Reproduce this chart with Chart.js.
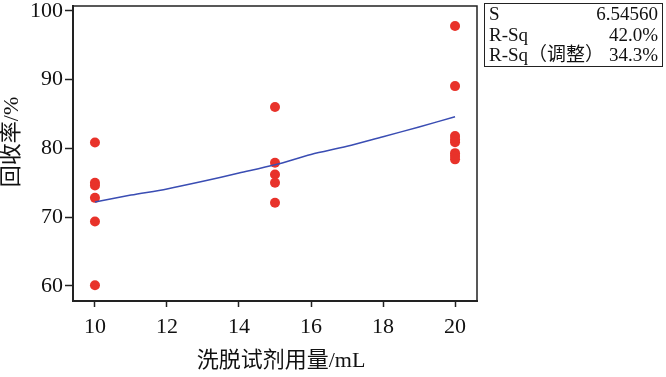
<!DOCTYPE html>
<html>
<head>
<meta charset="utf-8">
<script src="https://cdn.jsdelivr.net/npm/chart.js@4/dist/chart.umd.min.js"></script>
<style>
  body { margin: 0; background: #fff; }
  #wrap { position: relative; width: 666px; height: 377px; }
  #stats {
    position: absolute; left: 484px; top: 3px; width: 177px; height: 62px;
    border: 1.5px solid #222; box-sizing: content-box;
    font-family: "Liberation Serif", "Noto Sans CJK SC", serif; font-size: 19px;
    line-height: 20.5px; color: #111; padding: 0;
  }
  #stats .row { display: flex; justify-content: space-between; padding: 0 4px 0 4px; }
</style>
</head>
<body>
<div id="wrap">
  <canvas id="chart" width="666" height="377"></canvas>
  <div id="stats"></div>
</div>
<script>
// ===================================
// Data
// ===================================
const volumeX = [10, 10, 10, 10, 10, 10,
                 15, 15, 15, 15, 15,
                 20, 20, 20, 20, 20, 20, 20, 20];
const recoveryY = [80.85, 75.0, 74.6, 72.8, 69.35, 60.1,
                   86.0, 77.9, 76.2, 75.0, 72.1,
                   97.8, 89.05, 81.8, 81.3, 80.9, 79.3, 78.9, 78.4];

// fitted line
const fitX = [10, 11, 12, 13, 14, 15, 16, 17, 18, 19, 20];
const fitY = [72.2, 73.2, 74.1, 75.2, 76.4, 77.6, 79.1, 80.3, 81.7, 83.1, 84.6];

const xTicks = [10, 12, 14, 16, 18, 20];
const yTicks = [60, 70, 80, 90, 100];

const xTitle = "洗脱试剂用量/mL";
const yTitle = "回收率/%";

const statLabels = ["S", "R-Sq", "R-Sq（调整）"];
const statValues = ["6.54560", "42.0%", "34.3%"];

// ===================================
// Stats box
// ===================================
document.getElementById("stats").innerHTML = statLabels
  .map((label, i) => `<div class="row"><span>${label}</span><span>${statValues[i]}</span></div>`)
  .join("");

// ===================================
// Chart
// ===================================
const serif = "'Liberation Serif', 'Noto Sans CJK SC', serif";

// frame on top/right of plot area + axis titles placed like the original
const framePlugin = {
  id: "frame",
  afterDraw(chart) {
    const { ctx, chartArea } = chart;
    ctx.save();
    ctx.strokeStyle = "#222";
    ctx.lineWidth = 1.5;
    ctx.beginPath();
    ctx.moveTo(chartArea.left, chartArea.top);
    ctx.lineTo(chartArea.right, chartArea.top);
    ctx.lineTo(chartArea.right, chartArea.bottom);
    ctx.stroke();

    ctx.fillStyle = "#111";
    ctx.font = "22px " + serif;
    ctx.textAlign = "center";
    ctx.textBaseline = "middle";
    ctx.fillText(xTitle, 281, 361);

    ctx.translate(12, 142);
    ctx.rotate(-Math.PI / 2);
    ctx.fillText(yTitle, 0, 0);
    ctx.restore();
  },
};

const ctx = document.getElementById("chart").getContext("2d");
new Chart(ctx, {
  type: "scatter",
  data: {
    datasets: [
      {
        type: "line",
        data: fitX.map((x, i) => ({ x: x, y: fitY[i] })),
        borderColor: "#3a4db3",
        borderWidth: 1.5,
        pointRadius: 0,
        tension: 0.3,
        fill: false,
      },
      {
        data: volumeX.map((x, i) => ({ x: x, y: recoveryY[i] })),
        backgroundColor: "#e8322a",
        borderColor: "#e8322a",
        pointRadius: 5,
        borderWidth: 0,
      },
    ],
  },
  options: {
    responsive: false,
    animation: false,
    layout: { padding: { top: 6, right: 189, left: 0, bottom: 0 } },
    plugins: { legend: { display: false }, tooltip: { enabled: false } },
    scales: {
      x: {
        type: "linear",
        min: 9.39,
        max: 20.61,
        afterFit: (scale) => {
          scale.height = 76;
          scale.paddingLeft = 0;
          scale.paddingRight = 0;
        },
        afterBuildTicks: (scale) => { scale.ticks = xTicks.map((v) => ({ value: v })); },
        grid: { drawOnChartArea: false, tickLength: 6, color: "#222", tickWidth: 1.5 },
        border: { color: "#222", width: 2 },
        ticks: { color: "#111", padding: 7, font: { family: serif, size: 22 } },
      },
      y: {
        min: 57.8,
        max: 100.7,
        afterFit: (scale) => {
          scale.width = 73;
          scale.paddingTop = 0;
          scale.paddingBottom = 0;
        },
        afterBuildTicks: (scale) => { scale.ticks = yTicks.map((v) => ({ value: v })); },
        grid: { drawOnChartArea: false, tickLength: 8, color: "#222", tickWidth: 1.5 },
        border: { color: "#222", width: 2 },
        ticks: { color: "#111", padding: 2, font: { family: serif, size: 22 } },
      },
    },
  },
  plugins: [framePlugin],
});
</script>
</body>
</html>
